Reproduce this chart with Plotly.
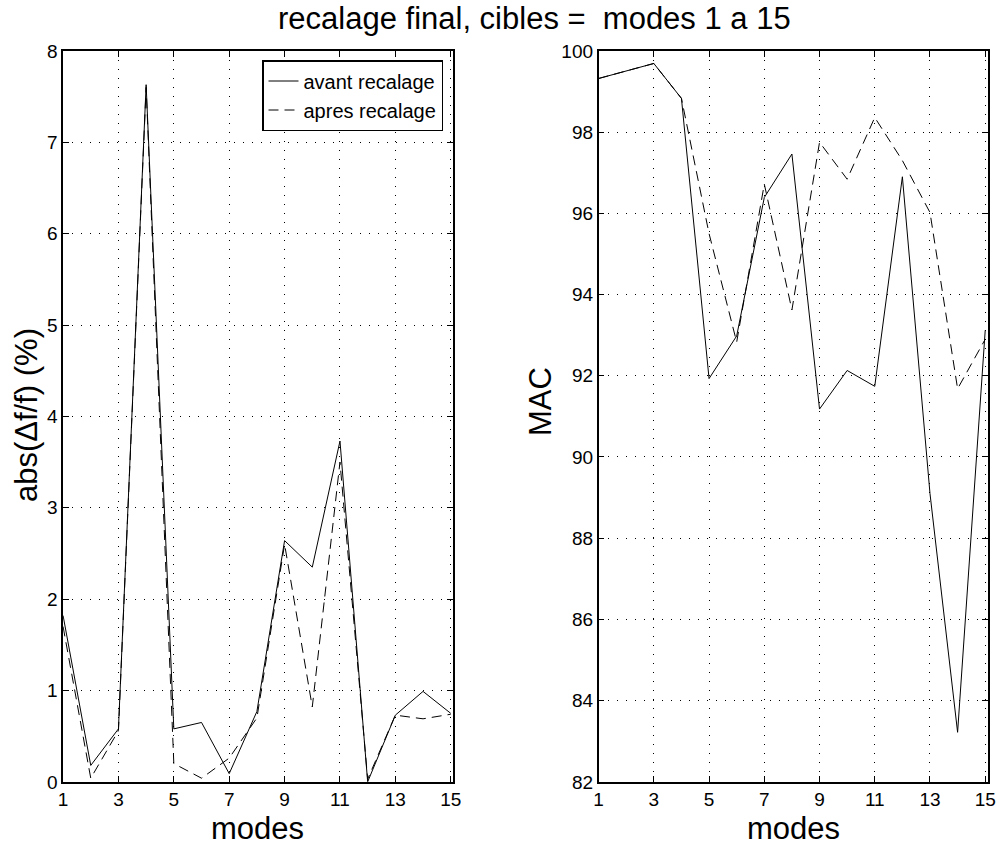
import plotly.graph_objects as go

modes = list(range(1, 16))
df_avant = [1.82, 0.18, 0.58, 7.63, 0.58, 0.65, 0.09, 0.77, 2.64, 2.35, 3.73, 0.0, 0.73, 0.99, 0.75]
df_apres = [1.70, 0.04, 0.56, 7.60, 0.20, 0.04, 0.26, 0.70, 2.60, 0.82, 3.50, 0.03, 0.73, 0.69, 0.74]
mac_avant = [99.32, 99.50, 99.69, 98.83, 91.93, 92.98, 96.39, 97.46, 91.18, 92.13, 91.74, 96.90, 89.10, 83.22, 93.12]
mac_apres = [99.32, 99.50, 99.69, 98.83, 95.50, 92.83, 96.72, 93.62, 97.75, 96.84, 98.36, 97.30, 96.02, 91.68, 92.90]
xticks = [1, 3, 5, 7, 9, 11, 13, 15]
title = "recalage final, cibles =  modes 1 a 15"
xlabel = "modes"
ylabel_left = "abs(Δf/f) (%)"
ylabel_right = "MAC"

FONT = "Liberation Sans, Arial, Helvetica, sans-serif"
fig = go.Figure()

line_solid = dict(color="black", width=1)
line_dash = dict(color="black", width=1, dash="10px,6px")

fig.add_trace(go.Scatter(x=modes, y=df_avant, mode="lines", line=line_solid,
                         name="avant recalage", xaxis="x", yaxis="y"))
fig.add_trace(go.Scatter(x=modes, y=df_apres, mode="lines", line=line_dash,
                         name="apres recalage", xaxis="x", yaxis="y"))
fig.add_trace(go.Scatter(x=modes, y=mac_avant, mode="lines", line=line_solid,
                         showlegend=False, xaxis="x2", yaxis="y2"))
fig.add_trace(go.Scatter(x=modes, y=mac_apres, mode="lines", line=line_dash,
                         showlegend=False, xaxis="x2", yaxis="y2"))

common = dict(showline=True, linecolor="black", linewidth=1.5, mirror="ticks",
              ticks="inside", ticklen=6, tickcolor="black", tickwidth=1,
              showgrid=True, gridcolor="black", gridwidth=1, griddash="1px,8px",
              zeroline=False, automargin=False,
              tickfont=dict(size=19, color="black", family=FONT))

TITLE_SIZE = 31
ann = [
    dict(text=title, x=534, y=19, size=31),
    dict(text=xlabel, x=257, y=828, size=TITLE_SIZE),
    dict(text=xlabel, x=793, y=828, size=TITLE_SIZE),
    dict(text=ylabel_left, x=27, y=415, size=TITLE_SIZE, angle=-90),
    dict(text=ylabel_right, x=540, y=402, size=TITLE_SIZE, angle=-90),
]
annotations = []
for a in ann:
    d = dict(xref="paper", yref="paper", x=a["x"] / 1001, y=1 - a["y"] / 848,
             xanchor="center", yanchor="middle", showarrow=False, text=a["text"],
             font=dict(family=FONT, color="black", size=a["size"]))
    if "angle" in a:
        d["textangle"] = a["angle"]
    annotations.append(d)

fig.update_layout(
    width=1001, height=848,
    margin=dict(l=0, r=0, t=0, b=0),
    paper_bgcolor="white", plot_bgcolor="white",
    font=dict(family=FONT, color="black"),
    annotations=annotations,
    xaxis=dict(domain=[0.063, 0.4525], range=[1, 15.08], tickvals=xticks, anchor="y", **common),
    yaxis=dict(domain=[0.078, 0.94], range=[0, 8], dtick=1, anchor="x", **common),
    xaxis2=dict(domain=[0.598, 0.987], range=[1, 15.1], tickvals=xticks, anchor="y2", **common),
    yaxis2=dict(domain=[0.078, 0.94], range=[82, 100], dtick=2, anchor="x2", **common),
    legend=dict(x=443 / 1001, xanchor="right", y=1 - 60 / 848, yanchor="top",
                bordercolor="black", borderwidth=1.5, bgcolor="white",
                font=dict(size=20, color="black", family=FONT),
                tracegroupgap=0, itemwidth=30),
    showlegend=True,
)

fig.write_html("out.html", config={"displayModeBar": False},
               post_script="document.body.style.margin='0px';document.body.style.padding='0px';document.body.style.overflow='hidden';")
